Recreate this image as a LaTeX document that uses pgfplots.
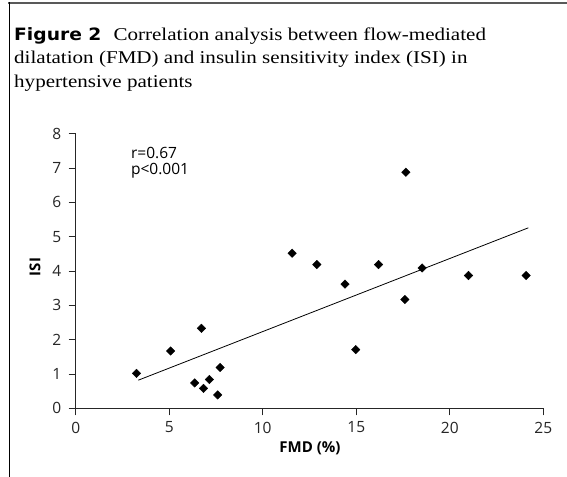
\documentclass[border=0pt]{standalone}
\usepackage{fontspec}
\setmainfont{Liberation Serif}[FakeStretch=1.17]
\newfontfamily\osans{Open Sans}
\newfontfamily\figfont{DejaVu Sans}[FakeStretch=1.1]
\usepackage{pgfplots}
\pgfplotsset{compat=1.18}

\begin{document}
\begin{tikzpicture}
\path[use as bounding box, fill=white] (0,0) rectangle (567bp,477bp);
% frame
\draw[line width=2bp, black!65] (8bp,474bp) -- (567bp,474bp);
\draw[line width=1.3bp, black] (9.5bp,475bp) -- (9.5bp,0);
% title
\node[anchor=base west, inner sep=0, font=\fontsize{18bp}{22bp}\selectfont] at (14bp,436.3bp)
  {{\figfont\fontsize{17bp}{20bp}\selectfont\bfseries Figure 2}\hspace{12bp}Correlation analysis between flow-mediated};
\node[anchor=base west, inner sep=0, font=\fontsize{18bp}{22bp}\selectfont] at (14bp,413bp)
  {dilatation (FMD) and insulin sensitivity index (ISI) in};
\node[anchor=base west, inner sep=0, font=\fontsize{18bp}{22bp}\selectfont] at (14bp,389.5bp)
  {hypertensive patients};

\begin{axis}[
  at={(75.7bp,68.7bp)}, anchor=south west,
  scale only axis,
  width=467.6bp, height=274.5bp,
  xmin=0, xmax=25, ymin=0, ymax=8,
  axis x line=bottom, axis y line=left,
  axis line style={-, black!85, line width=0.8bp},
  xtick={0,5,...,25}, ytick={0,1,...,8},
  tick align=outside,
  major tick length=7bp,
  tick style={black!85, line width=0.8bp},
  /pgf/number format/assume math mode=true,
  tick label style={font=\fontsize{15.5bp}{17bp}\osans, text=black!85},
  yticklabel style={xshift=-4bp},
  xticklabel style={yshift=-3bp},
  xlabel={FMD (\%)}, ylabel={ISI},
  label style={font=\fontsize{15bp}{17bp}\osans\bfseries},
  xlabel style={at={(axis description cs:0.501,-0.145)}, anchor=center},
  ylabel style={at={(axis description cs:-0.087,0.515)}, anchor=center, rotate=0},
  clip=false,
]
\addplot[only marks, mark=square*, mark size=3bp, mark options={rotate=45, fill=black}, black] coordinates {
  (3.25,1.02) (5.08,1.67) (6.72,2.33) (6.36,0.74) (6.83,0.58) (7.15,0.84)
  (7.59,0.39) (7.72,1.19) (14.97,1.71) (17.60,3.17) (17.65,6.88) (11.57,4.52)
  (12.89,4.19) (14.40,3.62) (16.19,4.19) (18.52,4.09) (21.00,3.87) (24.08,3.87)
};
\addplot[black, line width=0.8bp] coordinates {(3.35,0.82) (24.2,5.26)};
\node[anchor=north west, inner sep=0, align=left, font=\fontsize{15.5bp}{16bp}\osans] at (axis cs:2.95,7.62)
  {r=0.67\\p<0.001};
\end{axis}
\end{tikzpicture}
\end{document}
